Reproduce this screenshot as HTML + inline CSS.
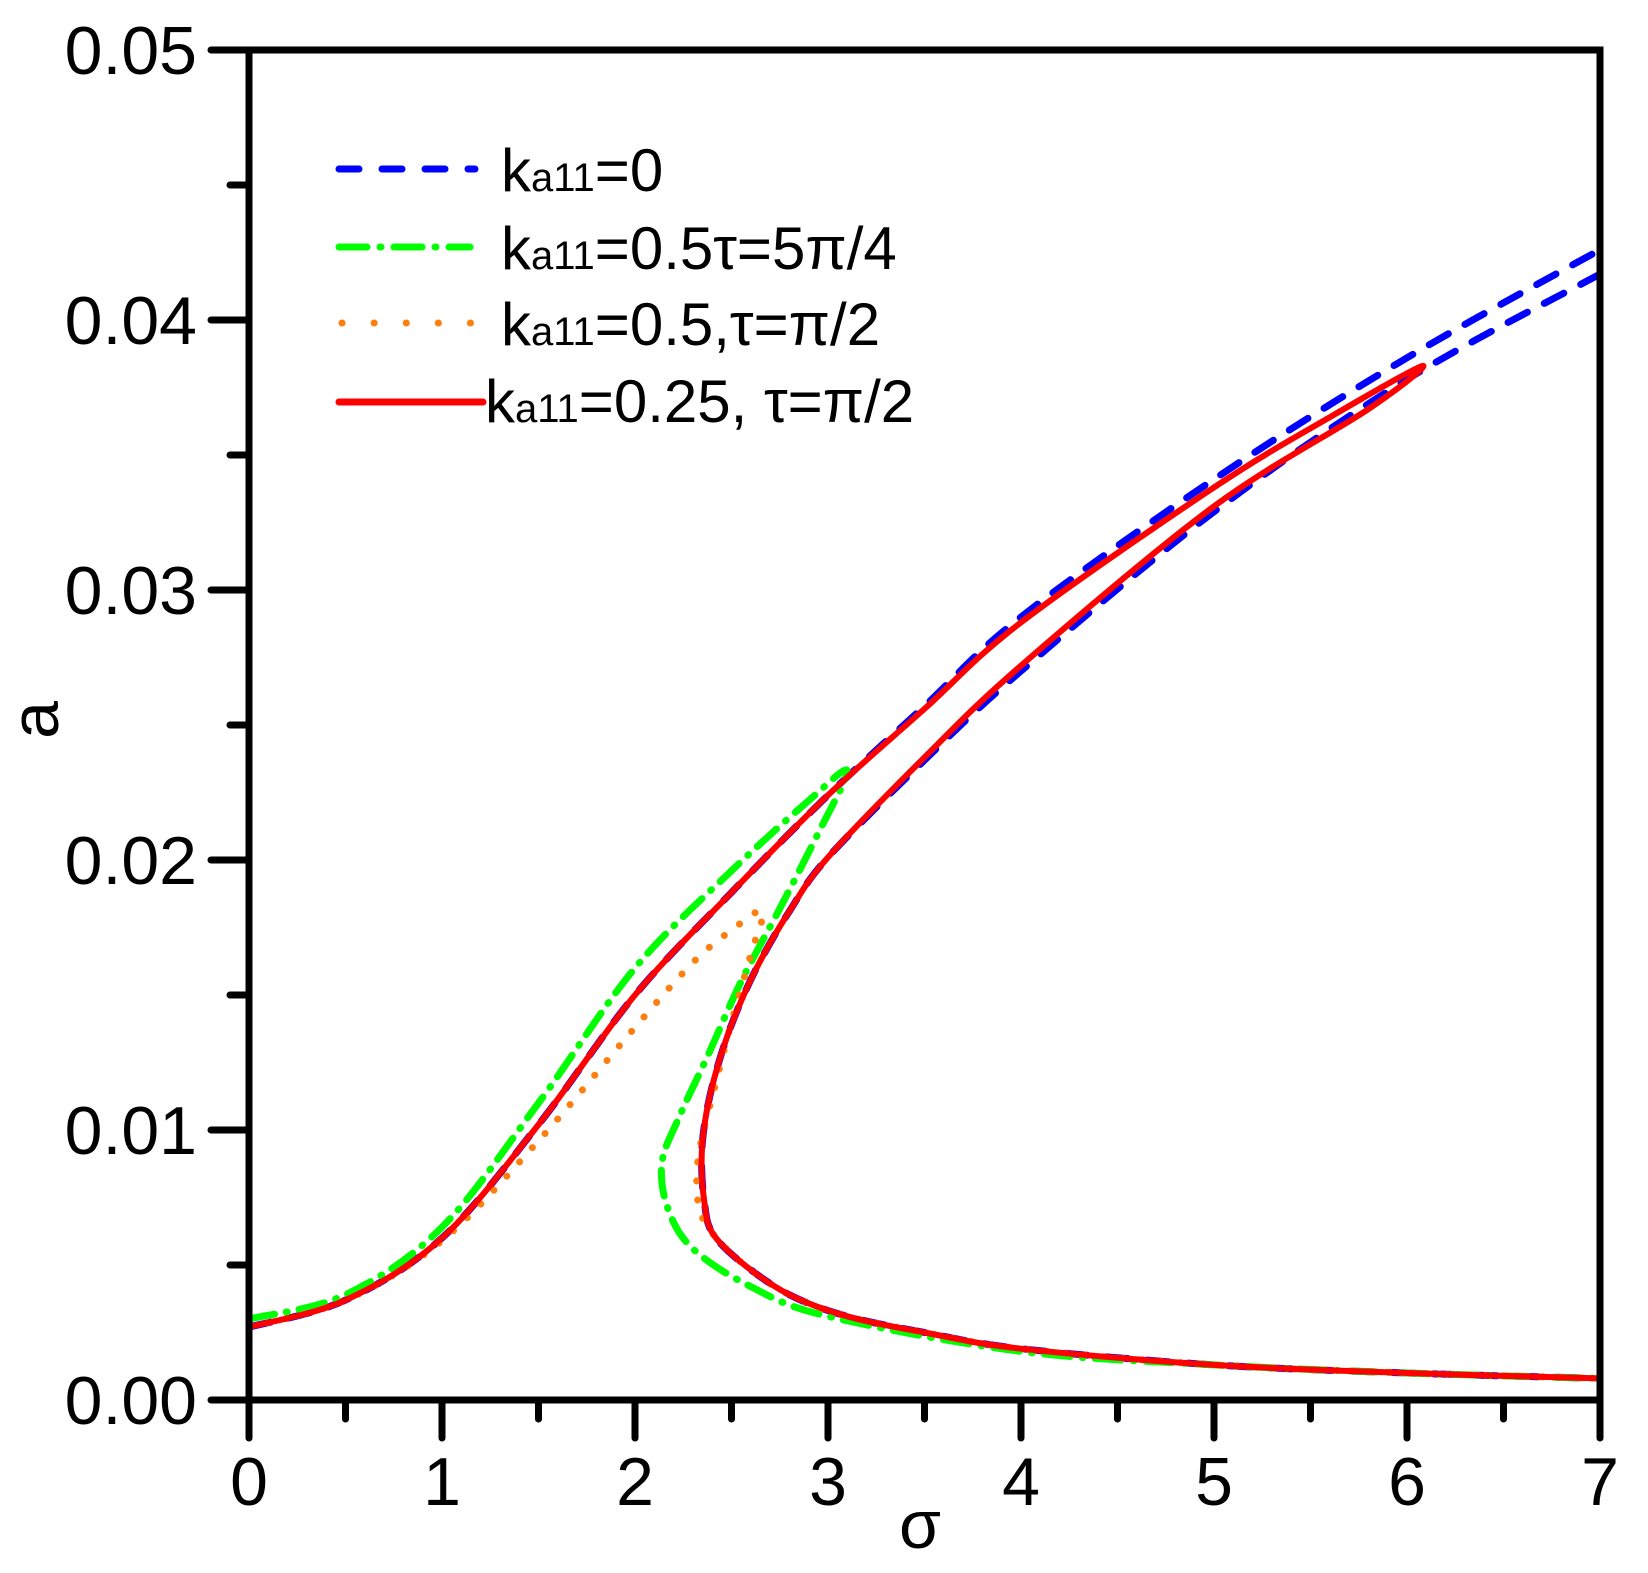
<!DOCTYPE html>
<html><head><meta charset="utf-8"><style>
html,body{margin:0;padding:0;background:#fff;}
svg{display:block;}
text{font-family:"Liberation Sans",Arial,sans-serif;fill:#000;}
</style></head><body>
<svg id="s" width="1648" height="1573" viewBox="0 0 1648 1573" xmlns="http://www.w3.org/2000/svg">
<g id="ticks" stroke="#000" stroke-width="7" stroke-linecap="round"></g>
<g id="curves" fill="none" stroke-linecap="round" stroke-linejoin="round"></g>
<rect x="249" y="50" width="1351" height="1350" fill="none" stroke="#000" stroke-width="7"/>
<g font-size="68" text-anchor="end">
<text x="197" y="1424">0.00</text>
<text x="197" y="1154">0.01</text>
<text x="197" y="884">0.02</text>
<text x="197" y="614">0.03</text>
<text x="197" y="344">0.04</text>
<text x="197" y="74">0.05</text>
</g>
<g font-size="68" text-anchor="middle">
<text x="249" y="1505">0</text><text x="442" y="1505">1</text><text x="635" y="1505">2</text>
<text x="828" y="1505">3</text><text x="1021" y="1505">4</text><text x="1214" y="1505">5</text>
<text x="1407" y="1505">6</text><text x="1600" y="1505">7</text>
</g>
<text x="920" y="1548" font-size="68" text-anchor="middle">σ</text>
<text transform="translate(58,720) rotate(-90)" font-size="68" text-anchor="middle">a</text>
<g stroke-width="7" stroke-linecap="round">
<line x1="339" y1="169" x2="475" y2="169" stroke="#0000ff" stroke-dasharray="20,23"/>
<line x1="339" y1="247" x2="470" y2="247" stroke="#00ff00" stroke-dasharray="28,13,1,13"/>
<line x1="342" y1="323" x2="475" y2="323" stroke="#ff7f0e" stroke-dasharray="0.1,32"/>
<line x1="339" y1="402" x2="483" y2="402" stroke="#ff0000"/>
</g>
<g font-size="60">
<text x="501" y="191">k<tspan font-size="40">a11</tspan>=0</text>
<text x="501" y="269">k<tspan font-size="40">a11</tspan>=0.5τ=5π/4</text>
<text x="501" y="345">k<tspan font-size="40">a11</tspan>=0.5,τ=π/2</text>
<text x="485" y="422">k<tspan font-size="40">a11</tspan>=0.25, τ=π/2</text>
</g>
</svg>
<script>
var X=s=>249+193*s, Y=a=>1400-27000*a;
var tk=document.getElementById('ticks'),h='';
for(var i=0;i<=14;i++){var x=249+96.5*i,L=i%2?19:38;h+='<line x1="'+x+'" y1="1400" x2="'+x+'" y2="'+(1400+L)+'"/>';}
for(var i=0;i<=10;i++){var y=1400-135*i,L=i%2?19:38;h+='<line x1="249" y1="'+y+'" x2="'+(249-L)+'" y2="'+y+'"/>';}
tk.innerHTML=h;
function path(p){var q=p.map(d=>[X(d[0]),Y(d[1])]);var s='M'+q[0][0]+','+q[0][1];
for(var i=0;i<q.length-1;i++){var p0=q[i-1]||q[i],p1=q[i],p2=q[i+1],p3=q[i+2]||q[i+1];
s+=' C'+(p1[0]+(p2[0]-p0[0])/6)+','+(p1[1]+(p2[1]-p0[1])/6)+' '+(p2[0]-(p3[0]-p1[0])/6)+','+(p2[1]-(p3[1]-p1[1])/6)+' '+p2[0]+','+p2[1];}return s;}
var lowTail=[[2.4,0.0062],[2.55,0.0051],[2.8,0.0039],[3.1,0.0031],[3.5,0.0025],[4,0.0019],[5,0.0013],[6,0.001],[7,0.0008]];
var nose=[[3,0.0201],[2.8,0.0181],[2.63,0.016],[2.5,0.0139],[2.41,0.0119],[2.36,0.0102],[2.345,0.0088],[2.36,0.0073]];
var blue=[[0,0.0027],[0.5,0.0037],[1,0.006],[1.5,0.0102],[2,0.015],[2.5,0.0188],[3,0.0224],[3.5,0.0257],[4,0.029],[5,0.0341],[6,0.0386],[7,0.0426]];
var blue2=[[7,0.0417],[6,0.0378],[5,0.0329],[4,0.027],[3.5,0.0237]].concat(nose,lowTail);
var red=[[0,0.0027],[0.5,0.0037],[1,0.006],[1.5,0.0102],[2,0.015],[2.5,0.0188],[3,0.0224],[3.5,0.0256],[4,0.0288],[5,0.0338],[5.6,0.0364],[6.08,0.0383],[5.8,0.0367],[5,0.0331],[4,0.0272],[3.5,0.0238]].concat(nose,lowTail);
var green=[[0,0.003],[0.5,0.0039],[1,0.0064],[1.5,0.011],[2,0.016],[2.5,0.0196],[2.9,0.0222],[3.1,0.0233],[2.95,0.021],[2.75,0.0182],[2.55,0.0155],[2.38,0.0128],[2.23,0.0105],[2.14,0.0088],[2.17,0.0071],[2.3,0.0056],[2.6,0.0042],[3,0.0031],[4,0.0018],[5,0.0013],[6,0.001],[7,0.0008]];
var orange=[[0,0.0027],[0.5,0.0037],[1,0.0059],[1.5,0.0096],[2,0.0138],[2.3,0.0162],[2.5,0.0174],[2.66,0.0181],[2.6,0.0165],[2.5,0.014],[2.41,0.0115],[2.34,0.0095],[2.32,0.008],[2.36,0.0066]].concat(lowTail.slice(1));
var c=document.getElementById('curves');
c.innerHTML='<path d="'+path(blue)+'" stroke="#0000ff" stroke-width="7" stroke-dasharray="22,19"/>'+
'<path d="'+path(blue2)+'" stroke="#0000ff" stroke-width="7" stroke-dasharray="22,19"/>'+
'<path d="'+path(green)+'" stroke="#00ff00" stroke-width="7" stroke-dasharray="26,12,1,12"/>'+
'<path d="'+path(orange)+'" stroke="#ff7f0e" stroke-width="7" stroke-dasharray="0.1,19"/>'+
'<path d="'+path(red)+'" stroke="#ff0000" stroke-width="6"/>';
</script>
</body></html>
